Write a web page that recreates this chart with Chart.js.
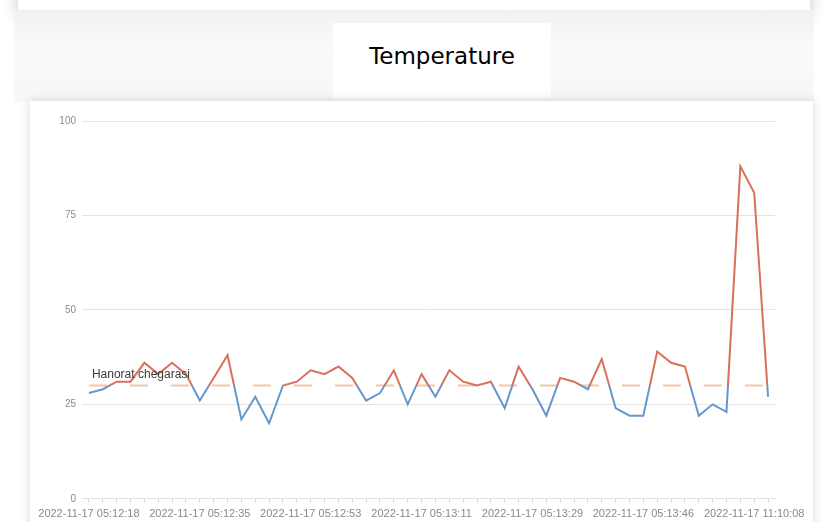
<!DOCTYPE html>
<html>
<head>
<meta charset="utf-8">
<script src="https://cdn.jsdelivr.net/npm/chart.js@4/dist/chart.umd.min.js"></script>
<style>
  html, body { margin: 0; padding: 0; background: #fff; overflow: hidden; }
  body { width: 829px; height: 522px; position: relative; }
  #topbar {
    position: absolute; left: 18px; top: -40px; width: 792px; height: 50px;
    background: #fff; box-shadow: 0 6px 16px rgba(0,0,0,0.22);
  }
  #band {
    position: absolute; left: 14px; top: 10px; width: 800px; height: 92px;
    background: linear-gradient(#f1f1f1, #fafafa 40%, #f7f7f7);
  }
  #title {
    position: absolute; left: 333px; top: 23px; width: 218px; height: 75px;
    background: #fff; font-family: "DejaVu Sans", sans-serif; font-size: 23px;
    color: #000; text-align: center; line-height: 67px;
  }
  #card {
    position: absolute; left: 30px; top: 101px; width: 783px; height: 440px;
    background: #fff; box-shadow: 0 0 10px rgba(0,0,0,0.16);
  }
  #wrap { position: absolute; left: 0; top: 0; width: 783px; height: 437px; }
</style>
</head>
<body>
<div id="topbar"></div>
<div id="band"></div>
<div id="title">Temperature</div>
<div id="card"><div id="wrap"><canvas id="tempChart"></canvas></div></div>
<script>
const times = [
  '2022-11-17 05:12:18', '2022-11-17 05:12:20', '2022-11-17 05:12:22', '2022-11-17 05:12:24',
  '2022-11-17 05:12:27', '2022-11-17 05:12:29', '2022-11-17 05:12:31', '2022-11-17 05:12:33',
  '2022-11-17 05:12:35', '2022-11-17 05:12:37', '2022-11-17 05:12:40', '2022-11-17 05:12:42',
  '2022-11-17 05:12:44', '2022-11-17 05:12:46', '2022-11-17 05:12:48', '2022-11-17 05:12:51',
  '2022-11-17 05:12:53', '2022-11-17 05:12:55', '2022-11-17 05:12:57', '2022-11-17 05:12:59',
  '2022-11-17 05:13:02', '2022-11-17 05:13:04', '2022-11-17 05:13:06', '2022-11-17 05:13:08',
  '2022-11-17 05:13:11', '2022-11-17 05:13:13', '2022-11-17 05:13:15', '2022-11-17 05:13:17',
  '2022-11-17 05:13:20', '2022-11-17 05:13:22', '2022-11-17 05:13:24', '2022-11-17 05:13:26',
  '2022-11-17 05:13:29', '2022-11-17 05:13:31', '2022-11-17 05:13:33', '2022-11-17 05:13:35',
  '2022-11-17 05:13:37', '2022-11-17 05:13:40', '2022-11-17 05:13:42', '2022-11-17 05:13:44',
  '2022-11-17 05:13:46', '2022-11-17 05:13:48', '2022-11-17 05:13:51', '2022-11-17 05:13:53',
  '2022-11-17 05:13:55', '2022-11-17 05:13:57', '2022-11-17 05:14:00', '2022-11-17 11:10:06',
  '2022-11-17 11:10:08', '2022-11-17 11:10:10'
];
const temps = [
  28, 29, 31, 31, 36, 33, 36, 33, 26, 32,
  38, 21, 27, 20, 30, 31, 34, 33, 35, 32,
  26, 28, 34, 25, 33, 27, 34, 31, 30, 31,
  24, 35, 29, 22, 32, 31, 29, 37, 24, 22,
  22, 39, 36, 35, 22, 25, 23, 88, 81, 27
];
const yTicks = [0, 25, 50, 75, 100];
const threshold = 30;
const thresholdLabel = 'Hanorat chegarasi';

const RED = '#d9705a';
const BLUE = '#6497cf';

// red above the limit, blue below
function lineColor(ctx) {
  const chart = ctx.chart;
  const area = chart.chartArea;
  if (!area) return BLUE;
  const y = chart.scales.y.getPixelForValue(threshold);
  const g = chart.ctx.createLinearGradient(0, area.top, 0, area.bottom);
  let stop = (y - area.top) / (area.bottom - area.top);
  stop = Math.min(Math.max(stop, 0), 1);
  g.addColorStop(0, RED);
  g.addColorStop(stop, RED);
  g.addColorStop(stop, BLUE);
  g.addColorStop(1, BLUE);
  return g;
}

const limitLine = {
  id: 'limitLine',
  beforeDatasetsDraw(chart) {
    const { ctx, scales } = chart;
    const y = scales.y.getPixelForValue(threshold);
    const x0 = scales.x.getPixelForValue(0);
    const x1 = scales.x.getPixelForValue(times.length - 1);
    ctx.save();
    ctx.strokeStyle = '#efc6a9';
    ctx.lineWidth = 2;
    ctx.setLineDash([18, 23]);
    ctx.beginPath();
    ctx.moveTo(x0, y);
    ctx.lineTo(x1, y);
    ctx.stroke();
    ctx.restore();
  },
  afterDatasetsDraw(chart) {
    const { ctx, scales } = chart;
    const y = scales.y.getPixelForValue(threshold);
    const x0 = scales.x.getPixelForValue(0);
    ctx.save();
    ctx.font = '12px "Liberation Sans", sans-serif';
    ctx.fillStyle = '#3a3a3a';
    ctx.textBaseline = 'bottom';
    ctx.fillText(thresholdLabel, x0 + 3, y - 5);
    ctx.restore();
  }
};

new Chart(document.getElementById('tempChart'), {
  type: 'line',
  data: {
    labels: times,
    datasets: [{
      label: 'Temperature',
      data: temps,
      borderColor: lineColor,
      borderWidth: 2,
      pointRadius: 0,
      tension: 0,
      fill: false
    }]
  },
  options: {
    responsive: true,
    maintainAspectRatio: false,
    animation: false,
    layout: { padding: { top: 20, right: 38, bottom: 12, left: 0 } },
    plugins: {
      legend: { display: false },
      title: { display: false },
      tooltip: { enabled: false }
    },
    scales: {
      x: {
        offset: true,
        border: { color: '#e2e2e2' },
        grid: { drawOnChartArea: false, tickLength: 4, color: '#d8d8d8' },
        ticks: {
          autoSkip: false,
          maxRotation: 0,
          minRotation: 0,
          padding: 5,
          color: '#8a8a8a',
          font: { family: '"Liberation Sans", sans-serif', size: 11 },
          callback: (v, i) => (i % 8 === 0 ? times[i] : '')
        }
      },
      y: {
        min: 0,
        max: 100,
        afterFit: s => { s.width = 52; },
        afterBuildTicks: s => { s.ticks = yTicks.map(v => ({ value: v })); },
        border: { display: false },
        grid: { color: '#e4e4e4', drawTicks: false },
        ticks: {
          padding: 6,
          color: '#8a8a8a',
          font: { family: '"Liberation Sans", sans-serif', size: 10 }
        }
      }
    }
  },
  plugins: [limitLine]
});
</script>
</body>
</html>
